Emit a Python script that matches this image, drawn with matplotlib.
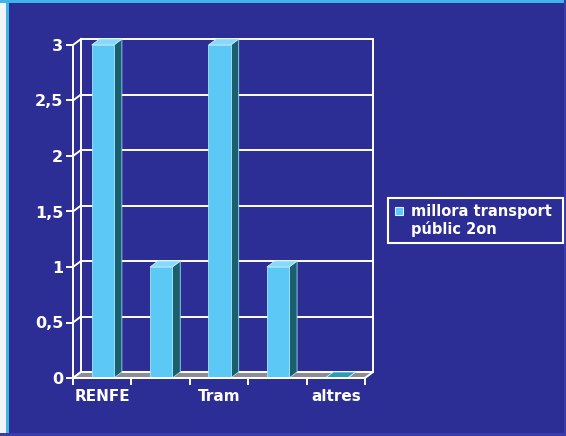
import matplotlib.pyplot as plt
from matplotlib.patches import Polygon, Rectangle

# chart data
categories = ["RENFE", "", "Tram", "", "altres"]
values = [3, 1, 3, 1, 0]
series_name = "millora transport\npúblic 2on"
y_ticks = [0, 0.5, 1, 1.5, 2, 2.5, 3]
y_tick_labels = ["0", "0,5", "1", "1,5", "2", "2,5", "3"]

bg = "#2D2D96"
bar_front = "#5CC8F5"
bar_side = "#1B5E6E"
bar_top = "#86D9F7"
floor_col = "#8C8C96"
edge = "white"

W, H = 566, 436
fig = plt.figure(figsize=(W / 100, H / 100), dpi=100)
fig.patch.set_facecolor(bg)

# frame strips around the slide
fig.patches.append(Rectangle((0, 0), 6 / W, 1, transform=fig.transFigure, facecolor="#F2F6FA", edgecolor="none"))
fig.patches.append(Rectangle((6 / W, 0), 3 / W, 1, transform=fig.transFigure, facecolor="#3FB4E8", edgecolor="none"))
fig.patches.append(Rectangle((0, 1 - 3 / H), 1, 3 / H, transform=fig.transFigure, facecolor="#3FB4E8", edgecolor="none"))
fig.patches.append(Rectangle((1 - 2 / W, 0), 2 / W, 1, transform=fig.transFigure, facecolor="#3A3AA8", edgecolor="none"))
fig.patches.append(Rectangle((0, 0), 1, 3 / H, transform=fig.transFigure, facecolor="#3A3AA8", edgecolor="none"))

# front plane of the 3d box
ax = fig.add_axes([73 / W, 58 / H, 292 / W, 333 / H])
ax.patch.set_alpha(0)
n = len(categories)
ax.set_xlim(0, n)
ax.set_ylim(0, 3)

dx = 8 / 58.4   # depth offset in category units
dy = 6 / 111.0  # depth offset in value units

# back wall grid and walls
for v in y_ticks:
    ax.plot([dx, n + dx], [v + dy, v + dy], color=edge, lw=1.4, zorder=1, clip_on=False)
    ax.plot([0, dx], [v, v + dy], color=edge, lw=1.4, zorder=1, clip_on=False)
ax.plot([dx, dx], [dy, 3 + dy], color=edge, lw=1.4, zorder=1, clip_on=False)
ax.plot([n + dx, n + dx], [dy, 3 + dy], color=edge, lw=1.4, zorder=1, clip_on=False)

# floor
ax.add_patch(Polygon([(0, 0), (n, 0), (n + dx, dy), (dx, dy)], closed=True,
                     facecolor=floor_col, edgecolor=edge, lw=1.4, zorder=2, clip_on=False))

# bars
off, bw = 0.32, 0.38
for i, v in enumerate(values):
    x0 = i + off
    x1 = x0 + bw
    ax.add_patch(Polygon([(x1, 0), (x1 + dx, dy), (x1 + dx, v + dy), (x1, v)], closed=True,
                         facecolor=bar_side, edgecolor="#9EDDEE", lw=0.6, zorder=3, clip_on=False))
    ax.add_patch(Polygon([(x0, v), (x1, v), (x1 + dx, v + dy), (x0 + dx, v + dy)], closed=True,
                         facecolor=bar_top if v > 0 else "#2E9AAE", edgecolor="#C8F0FF", lw=0.6,
                         zorder=3, clip_on=False))
    ax.add_patch(Rectangle((x0, 0), bw, v, facecolor=bar_front, edgecolor="#A8E6FA",
                           lw=0.6, zorder=4, clip_on=False))

# front axes
for s in ["top", "right"]:
    ax.spines[s].set_visible(False)
for s in ["left", "bottom"]:
    ax.spines[s].set_color(edge)
    ax.spines[s].set_linewidth(1.4)
    ax.spines[s].set_zorder(5)

ax.set_yticks(y_ticks)
ax.set_yticklabels(y_tick_labels)
ax.set_xticks(range(n + 1))
ax.set_xticklabels([])
ax.set_xticks([i + 0.5 for i in range(n)], minor=True)
ax.set_xticklabels(categories, minor=True)
ax.tick_params(axis="y", colors=edge, length=5, width=1.4, pad=2, labelsize=11.5)
ax.tick_params(axis="x", which="major", colors=edge, length=5, width=1.4)
ax.tick_params(axis="x", which="minor", colors=edge, length=0, pad=8, labelsize=11)
for lab in ax.get_yticklabels() + ax.get_xticklabels(minor=True):
    lab.set_fontweight("bold")
    lab.set_color(edge)

# legend box
fig.patches.append(Rectangle((388 / W, 1 - 243 / H), 175 / W, 45 / H, transform=fig.transFigure,
                             facecolor="none", edgecolor=edge, lw=1.5))
fig.patches.append(Rectangle((395 / W, 1 - 215 / H), 8 / W, 8 / H, transform=fig.transFigure,
                             facecolor=bar_front, edgecolor="#D8F4FF", lw=0.8))
fig.text(411 / W, 1 - 204 / H, series_name, color=edge, fontsize=10.5, fontweight="bold",
         va="top", ha="left", linespacing=1.15)

fig.savefig("out.png", dpi=100, facecolor=fig.get_facecolor())
